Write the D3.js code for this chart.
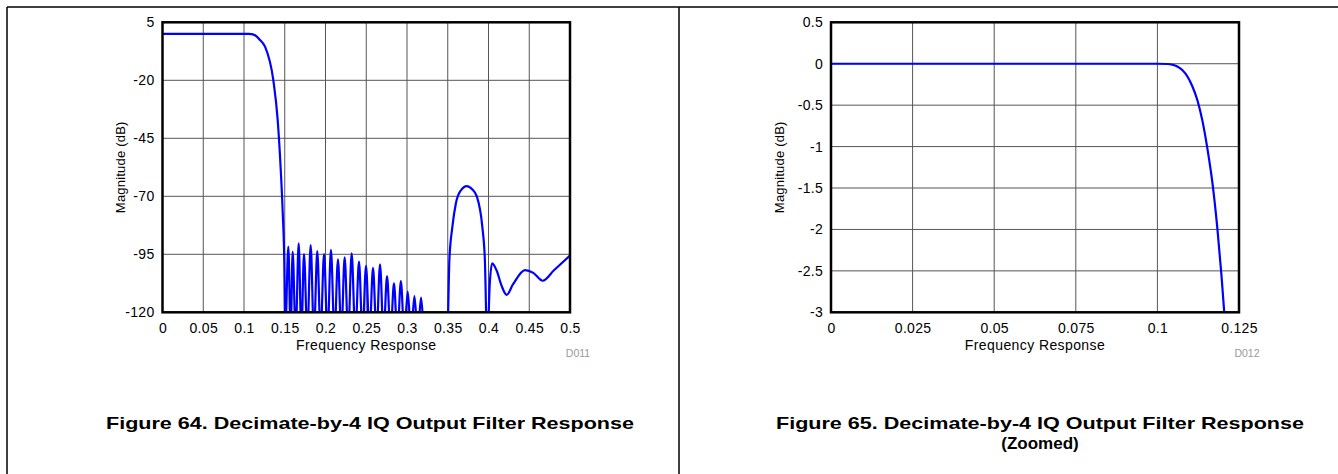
<!DOCTYPE html>
<html><head><meta charset="utf-8">
<script src="https://cdn.jsdelivr.net/npm/d3@7"></script>
<style>
body{margin:0;background:#fff;}
svg{display:block;font-family:"Liberation Sans",Arial,sans-serif;}
</style></head>
<body>
<svg id="c" width="1338" height="474"></svg>
<script>
// ---- Data ----
const leftXTicks = [0,0.05,0.1,0.15,0.2,0.25,0.3,0.35,0.4,0.45,0.5];
const leftYTicks = [5,-20,-45,-70,-95,-120];
const rightXTicks = [0,0.025,0.05,0.075,0.1,0.125];
const rightYTicks = [0.5,0,-0.5,-1,-1.5,-2,-2.5,-3];

// Figure 64: full response (frequency, magnitude dB); nulls below -120 are clipped
const leftFreq = [0,0.05,0.1,0.106,0.1094,0.1135,0.1196,0.1258,0.136,0.1413,0.145,0.1475,0.1495,0.1505,
  0.1544,0.1572,0.1597,0.1634,0.1671,0.1704,0.1736,0.1777,0.1818,0.1858,0.1899,0.194,0.1982,0.2025,
  0.2067,0.211,0.2153,0.2194,0.2235,0.2278,0.2321,0.2366,0.2411,0.2454,0.2497,0.254,0.2583,0.2626,
  0.2669,0.2712,0.2755,0.2798,0.284,0.2882,0.2925,0.2967,0.3009,0.305,0.3091,0.3132,0.3172,0.3212,
  0.335,0.3495,0.352,0.3557,0.36,0.366,0.3733,0.38,0.3855,0.3924,0.3955,0.3985,0.4015,0.4045,0.41,
  0.416,0.4223,0.43,0.4448,0.455,0.4665,0.48,0.5];
const leftMag = [0,0,0,0,-0.1,-0.6,-2.6,-5.5,-20,-37,-58,-77,-100,-130,
  -91.7,-130,-93.9,-130,-90.3,-130,-94.9,-130,-91.0,-130,-93.6,-130,-94.9,-130,
  -93.1,-130,-97.2,-130,-96.3,-130,-94.6,-130,-98.2,-130,-100.0,-130,-100.8,-130,
  -99.3,-130,-104.4,-130,-107.5,-130,-106.5,-130,-111.1,-130,-113.0,-130,-113.7,-130,
  -140,-130,-97.5,-83.1,-73,-67.5,-65.6,-67,-69.9,-83.1,-97,-135,-108,-98.9,-102,
  -108.5,-112.5,-108,-101.8,-103,-106.4,-102,-95.5];

// Figure 65: zoomed passband
const rightFreq = [0,0.025,0.05,0.075,0.1,0.1031,0.1046,0.1061,0.1077,0.1092,0.1107,0.1123,0.1138,0.1153,0.1169,0.1184,0.1196,0.1205,0.1211];
const rightMag  = [0,0,0,0,0,-0.003,-0.012,-0.034,-0.078,-0.154,-0.272,-0.446,-0.69,-1.02,-1.45,-2.0,-2.54,-3.01,-3.35];

const svg = d3.select("#c");

// outer frame
svg.append("line").attr("x1",7).attr("y1",7).attr("x2",1338).attr("y2",7).attr("stroke","#000").attr("stroke-width",1.5);
svg.append("line").attr("x1",7).attr("y1",7).attr("x2",7).attr("y2",474).attr("stroke","#000").attr("stroke-width",1.5);
svg.append("line").attr("x1",679).attr("y1",7).attr("x2",679).attr("y2",474).attr("stroke","#000").attr("stroke-width",1.5);

function panel(cfg){
  const x = d3.scaleLinear().domain(cfg.xd).range([cfg.x0,cfg.x1]);
  const y = d3.scaleLinear().domain(cfg.yd).range([cfg.y0,cfg.y1]);
  const g = svg.append("g");
  // grid
  g.append("g").selectAll("line").data(cfg.xt).join("line")
    .attr("x1",d=>x(d)).attr("x2",d=>x(d)).attr("y1",cfg.y1).attr("y2",cfg.y0)
    .attr("stroke","#555").attr("stroke-width",1);
  g.append("g").selectAll("line").data(cfg.yt).join("line")
    .attr("y1",d=>y(d)).attr("y2",d=>y(d)).attr("x1",cfg.x0).attr("x2",cfg.x1)
    .attr("stroke","#555").attr("stroke-width",1);
  // axes labels via d3 axes (no tick marks)
  const ax = g.append("g").attr("transform",`translate(0,${cfg.y0})`)
    .call(d3.axisBottom(x).tickValues(cfg.xt).tickSize(0).tickPadding(11).tickFormat(d=>String(d)));
  const ay = g.append("g").attr("transform",`translate(${cfg.x0},0)`)
    .call(d3.axisLeft(y).tickValues(cfg.yt).tickSize(0).tickPadding(8).tickFormat(d=>String(d)));
  [ax,ay].forEach(a=>{a.select(".domain").remove();
    a.selectAll("text").attr("font-size",14).attr("letter-spacing",0.3).attr("fill","#000")
      .attr("font-family","Liberation Sans, Arial, sans-serif");});
  // curve
  const id = "clip"+cfg.id;
  svg.append("clipPath").attr("id",id).append("rect")
    .attr("x",cfg.x0).attr("y",cfg.y1).attr("width",cfg.x1-cfg.x0).attr("height",cfg.y0-cfg.y1);
  const pts = cfg.fx.map((f,i)=>[f,cfg.my[i]]);
  g.append("path").datum(pts).attr("clip-path",`url(#${id})`)
    .attr("fill","none").attr("stroke","#0000ff").attr("stroke-width",2.2)
    .attr("d",d3.line().x(d=>x(d[0])).y(d=>y(d[1])).curve(d3.curveMonotoneX));
  // border
  g.append("rect").attr("x",cfg.x0).attr("y",cfg.y1).attr("width",cfg.x1-cfg.x0).attr("height",cfg.y0-cfg.y1)
    .attr("fill","none").attr("stroke","#000").attr("stroke-width",2.5);
  // axis titles
  g.append("text").attr("x",(cfg.x0+cfg.x1)/2).attr("y",cfg.y0+38).attr("text-anchor","middle")
    .attr("font-size",14).attr("letter-spacing",0.4).text("Frequency Response");
  g.append("text").attr("transform",`translate(${cfg.x0-cfg.yl},${(cfg.y0+cfg.y1)/2}) rotate(-90)`)
    .attr("text-anchor","middle").attr("font-size",13).attr("letter-spacing",0.2).text("Magnitude (dB)");
  g.append("text").attr("x",cfg.x1+8).attr("y",cfg.y0+45).attr("text-anchor","middle")
    .attr("font-size",10.5).attr("fill","#999").text(cfg.code);
  // caption
  cfg.caption.forEach((c,i)=>{
    const t = g.append("text").attr("x",cfg.cx).attr("y",429+i*20).attr("text-anchor","middle")
      .attr("font-size",17).attr("font-weight","bold").text(c);
    if(i===0) t.attr("textLength",528).attr("lengthAdjust","spacingAndGlyphs");
  });
}

panel({id:"L",xd:[0,0.5],yd:[-120,5],x0:162.5,x1:570,y0:312.3,y1:22.3,xt:leftXTicks,yt:leftYTicks,yl:38,
  fx:leftFreq,my:leftMag,code:"D011",cx:370,caption:["Figure 64. Decimate-by-4 IQ Output Filter Response"]});
panel({id:"R",xd:[0,0.125],yd:[-3,0.5],x0:831,x1:1239,y0:312.3,y1:22.3,xt:rightXTicks,yt:rightYTicks,yl:47,
  fx:rightFreq,my:rightMag,code:"D012",cx:1040,caption:["Figure 65. Decimate-by-4 IQ Output Filter Response","(Zoomed)"]});
</script>
</body></html>
